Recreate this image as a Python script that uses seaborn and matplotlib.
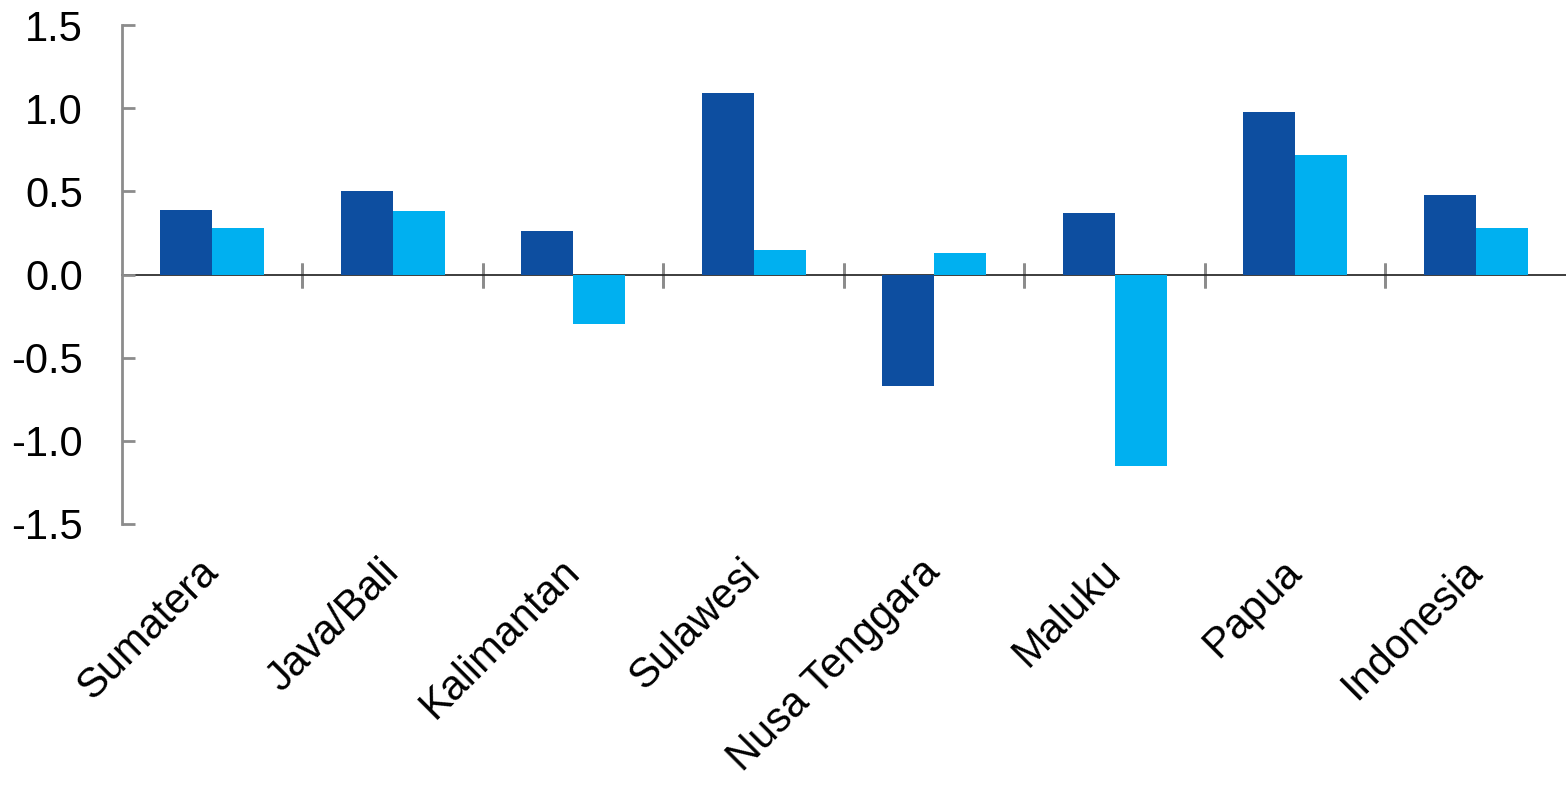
import matplotlib
matplotlib.use("Agg")
import matplotlib.pyplot as plt
import seaborn as sns
import pandas as pd
import numpy as np

regions = ["Sumatera", "Java/Bali", "Kalimantan", "Sulawesi",
           "Nusa Tenggara", "Maluku", "Papua", "Indonesia"]
series_a = [0.39, 0.50, 0.26, 1.09, -0.67, 0.37, 0.98, 0.48]
series_b = [0.28, 0.38, -0.30, 0.15, 0.13, -1.15, 0.72, 0.28]
series_names = ["A", "B"]
y_ticks = [-1.5, -1.0, -0.5, 0.0, 0.5, 1.0, 1.5]

df = pd.DataFrame({
    "region": regions * 2,
    "value": series_a + series_b,
    "series": [series_names[0]] * len(regions) + [series_names[1]] * len(regions),
})

sns.set_theme(style="white")
plt.rcParams["font.family"] = ["Liberation Sans", "DejaVu Sans"]

axis_grey = "#8c8c8c"
fig = plt.figure(figsize=(15.66, 7.85), dpi=100)
ax = fig.add_axes([0.0779, 0.3325, 0.9221, 0.6355])

sns.barplot(data=df, x="region", y="value", hue="series", order=regions,
            hue_order=series_names, palette=["#0D4EA0", "#00B0F0"],
            width=0.575, gap=0, saturation=1, edgecolor="none",
            legend=False, ax=ax)

ax.set_xlim(-0.5, len(regions) - 0.5)
ax.set_ylim(-1.5, 1.5)
ax.set_yticks(y_ticks)
ax.set_yticklabels([f"{v:.1f}" for v in y_ticks])
ax.set_xlabel("")
ax.set_ylabel("")

for side in ["top", "right", "bottom"]:
    ax.spines[side].set_visible(False)
ax.spines["left"].set_color(axis_grey)
ax.spines["left"].set_linewidth(2)

ax.tick_params(axis="y", direction="in", length=9, width=2, color=axis_grey,
               labelsize=30, labelcolor="black", pad=28, left=True)
ax.tick_params(axis="x", length=0, labelsize=30, labelcolor="black", pad=30)
for lab in ax.get_xticklabels():
    lab.set_rotation(45)
    lab.set_ha("right")
    lab.set_va("center")
    lab.set_rotation_mode("anchor")

# zero line with category separators crossing it
zero_axis = ax.secondary_xaxis(0.5)
zero_axis.set_xticks(np.arange(0.5, len(regions) - 0.5, 1.0))
zero_axis.set_xticklabels([])
zero_axis.spines["bottom"].set_color(axis_grey)
zero_axis.spines["bottom"].set_linewidth(2)
zero_axis.tick_params(axis="x", direction="inout", length=18, width=2,
                      color=axis_grey, bottom=True)

fig.savefig("out.png", dpi=100, facecolor="white")
